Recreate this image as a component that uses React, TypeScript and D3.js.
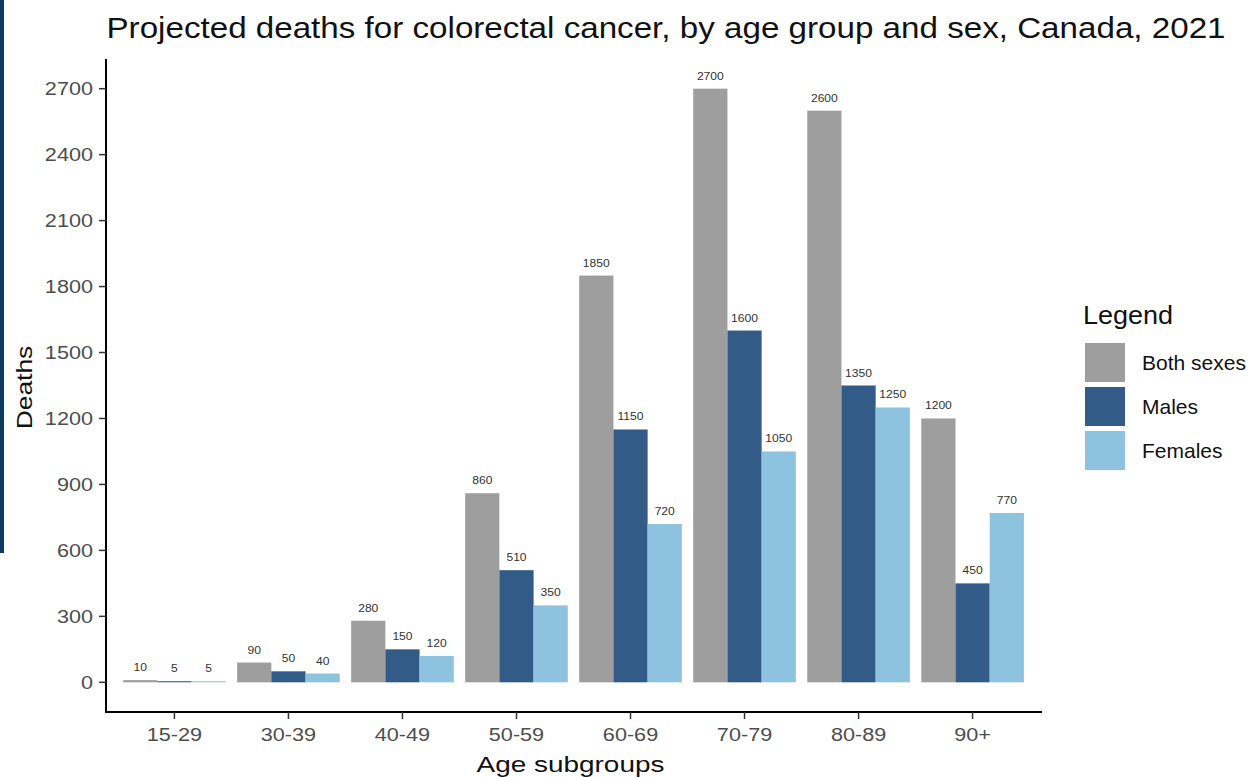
import React from "react";
import * as d3 from "d3";

const ageGroups = ["15-29", "30-39", "40-49", "50-59", "60-69", "70-79", "80-89", "90+"];
const seriesNames = ["Both sexes", "Males", "Females"];
const bothSexes = [10, 90, 280, 860, 1850, 2700, 2600, 1200];
const males = [5, 50, 150, 510, 1150, 1600, 1350, 450];
const females = [5, 40, 120, 350, 720, 1050, 1250, 770];
const yTicks = [0, 300, 600, 900, 1200, 1500, 1800, 2100, 2400, 2700];
const colors = ["#9e9e9e", "#325b87", "#8dc3df"];

const W = 1251;
const H = 777;
const left = 106;
const right = 1041;
const top = 59;
const bottom = 712;
const font = "'Liberation Sans', Arial, sans-serif";

function T(props: {
  x: number;
  y: number;
  size: number;
  sx?: number;
  rot?: number;
  anchor?: string;
  fill?: string;
  children: React.ReactNode;
}) {
  const { x, y, size, sx = 1, rot = 0, anchor = "start", fill = "#111", children } = props;
  return (
    <text
      transform={`translate(${x},${y}) rotate(${rot}) scale(${sx},1)`}
      textAnchor={anchor}
      fontFamily={font}
      fontSize={size}
      fill={fill}
    >
      {children}
    </text>
  );
}

export default function App() {
  const series = [bothSexes, males, females];
  const x = d3.scaleBand<string>().domain(ageGroups).range([left, right]).paddingInner(0.1).paddingOuter(0.15);
  const xs = d3.scaleBand<string>().domain(seriesNames).range([0, x.bandwidth()]);
  const y = d3.scaleLinear().domain([-135, 2835]).range([bottom, top]);

  return (
    <div style={{ position: "fixed", left: 0, top: 0 }}>
      <svg width={W} height={H} style={{ display: "block", background: "#fff" }}>
        <rect x={0} y={0} width={4} height={553} fill="#0d3a63" />
        <T x={666} y={38} size={29.5} sx={1.125} anchor="middle">
          Projected deaths for colorectal cancer, by age group and sex, Canada, 2021
        </T>
        {ageGroups.map((g, i) =>
          series.map((s, k) => {
            const bx = (x(g) as number) + (xs(seriesNames[k]) as number);
            const bw = xs.bandwidth();
            const v = s[i];
            return (
              <g key={g + k}>
                <rect x={bx} y={y(v)} width={bw} height={y(0) - y(v)} fill={colors[k]} />
                <T x={bx + bw / 2} y={y(v) - 9} size={11} sx={1.1} anchor="middle" fill="#333">
                  {v}
                </T>
              </g>
            );
          })
        )}
        <line x1={left} x2={left} y1={top} y2={bottom + 1} stroke="#000" strokeWidth={2} />
        <line x1={left - 1} x2={right + 1} y1={bottom} y2={bottom} stroke="#000" strokeWidth={2} />
        {yTicks.map((t) => (
          <g key={t}>
            <line x1={left - 7} x2={left} y1={y(t)} y2={y(t)} stroke="#333" strokeWidth={1.5} />
            <T x={left - 13} y={y(t) + 6.5} size={18.5} sx={1.17} anchor="end" fill="#4d4d4d">
              {t}
            </T>
          </g>
        ))}
        {ageGroups.map((g) => {
          const cx = (x(g) as number) + x.bandwidth() / 2;
          return (
            <g key={g}>
              <line x1={cx} x2={cx} y1={bottom} y2={bottom + 7} stroke="#333" strokeWidth={1.5} />
              <T x={cx} y={741} size={18.5} sx={1.17} anchor="middle" fill="#4d4d4d">
                {g}
              </T>
            </g>
          );
        })}
        <T x={(left + right) / 2 - 3} y={772} size={22} sx={1.27} anchor="middle">
          Age subgroups
        </T>
        <T x={32} y={(top + bottom) / 2 + 2} size={22} sx={1.2} rot={-90} anchor="middle">
          Deaths
        </T>
        <T x={1083} y={324} size={25} sx={1.08}>
          Legend
        </T>
        {seriesNames.map((n, k) => (
          <g key={n}>
            <rect x={1085} y={343 + k * 44} width={40} height={39} fill={colors[k]} />
            <T x={1142} y={343 + k * 44 + 27} size={21}>
              {n}
            </T>
          </g>
        ))}
      </svg>
    </div>
  );
}
